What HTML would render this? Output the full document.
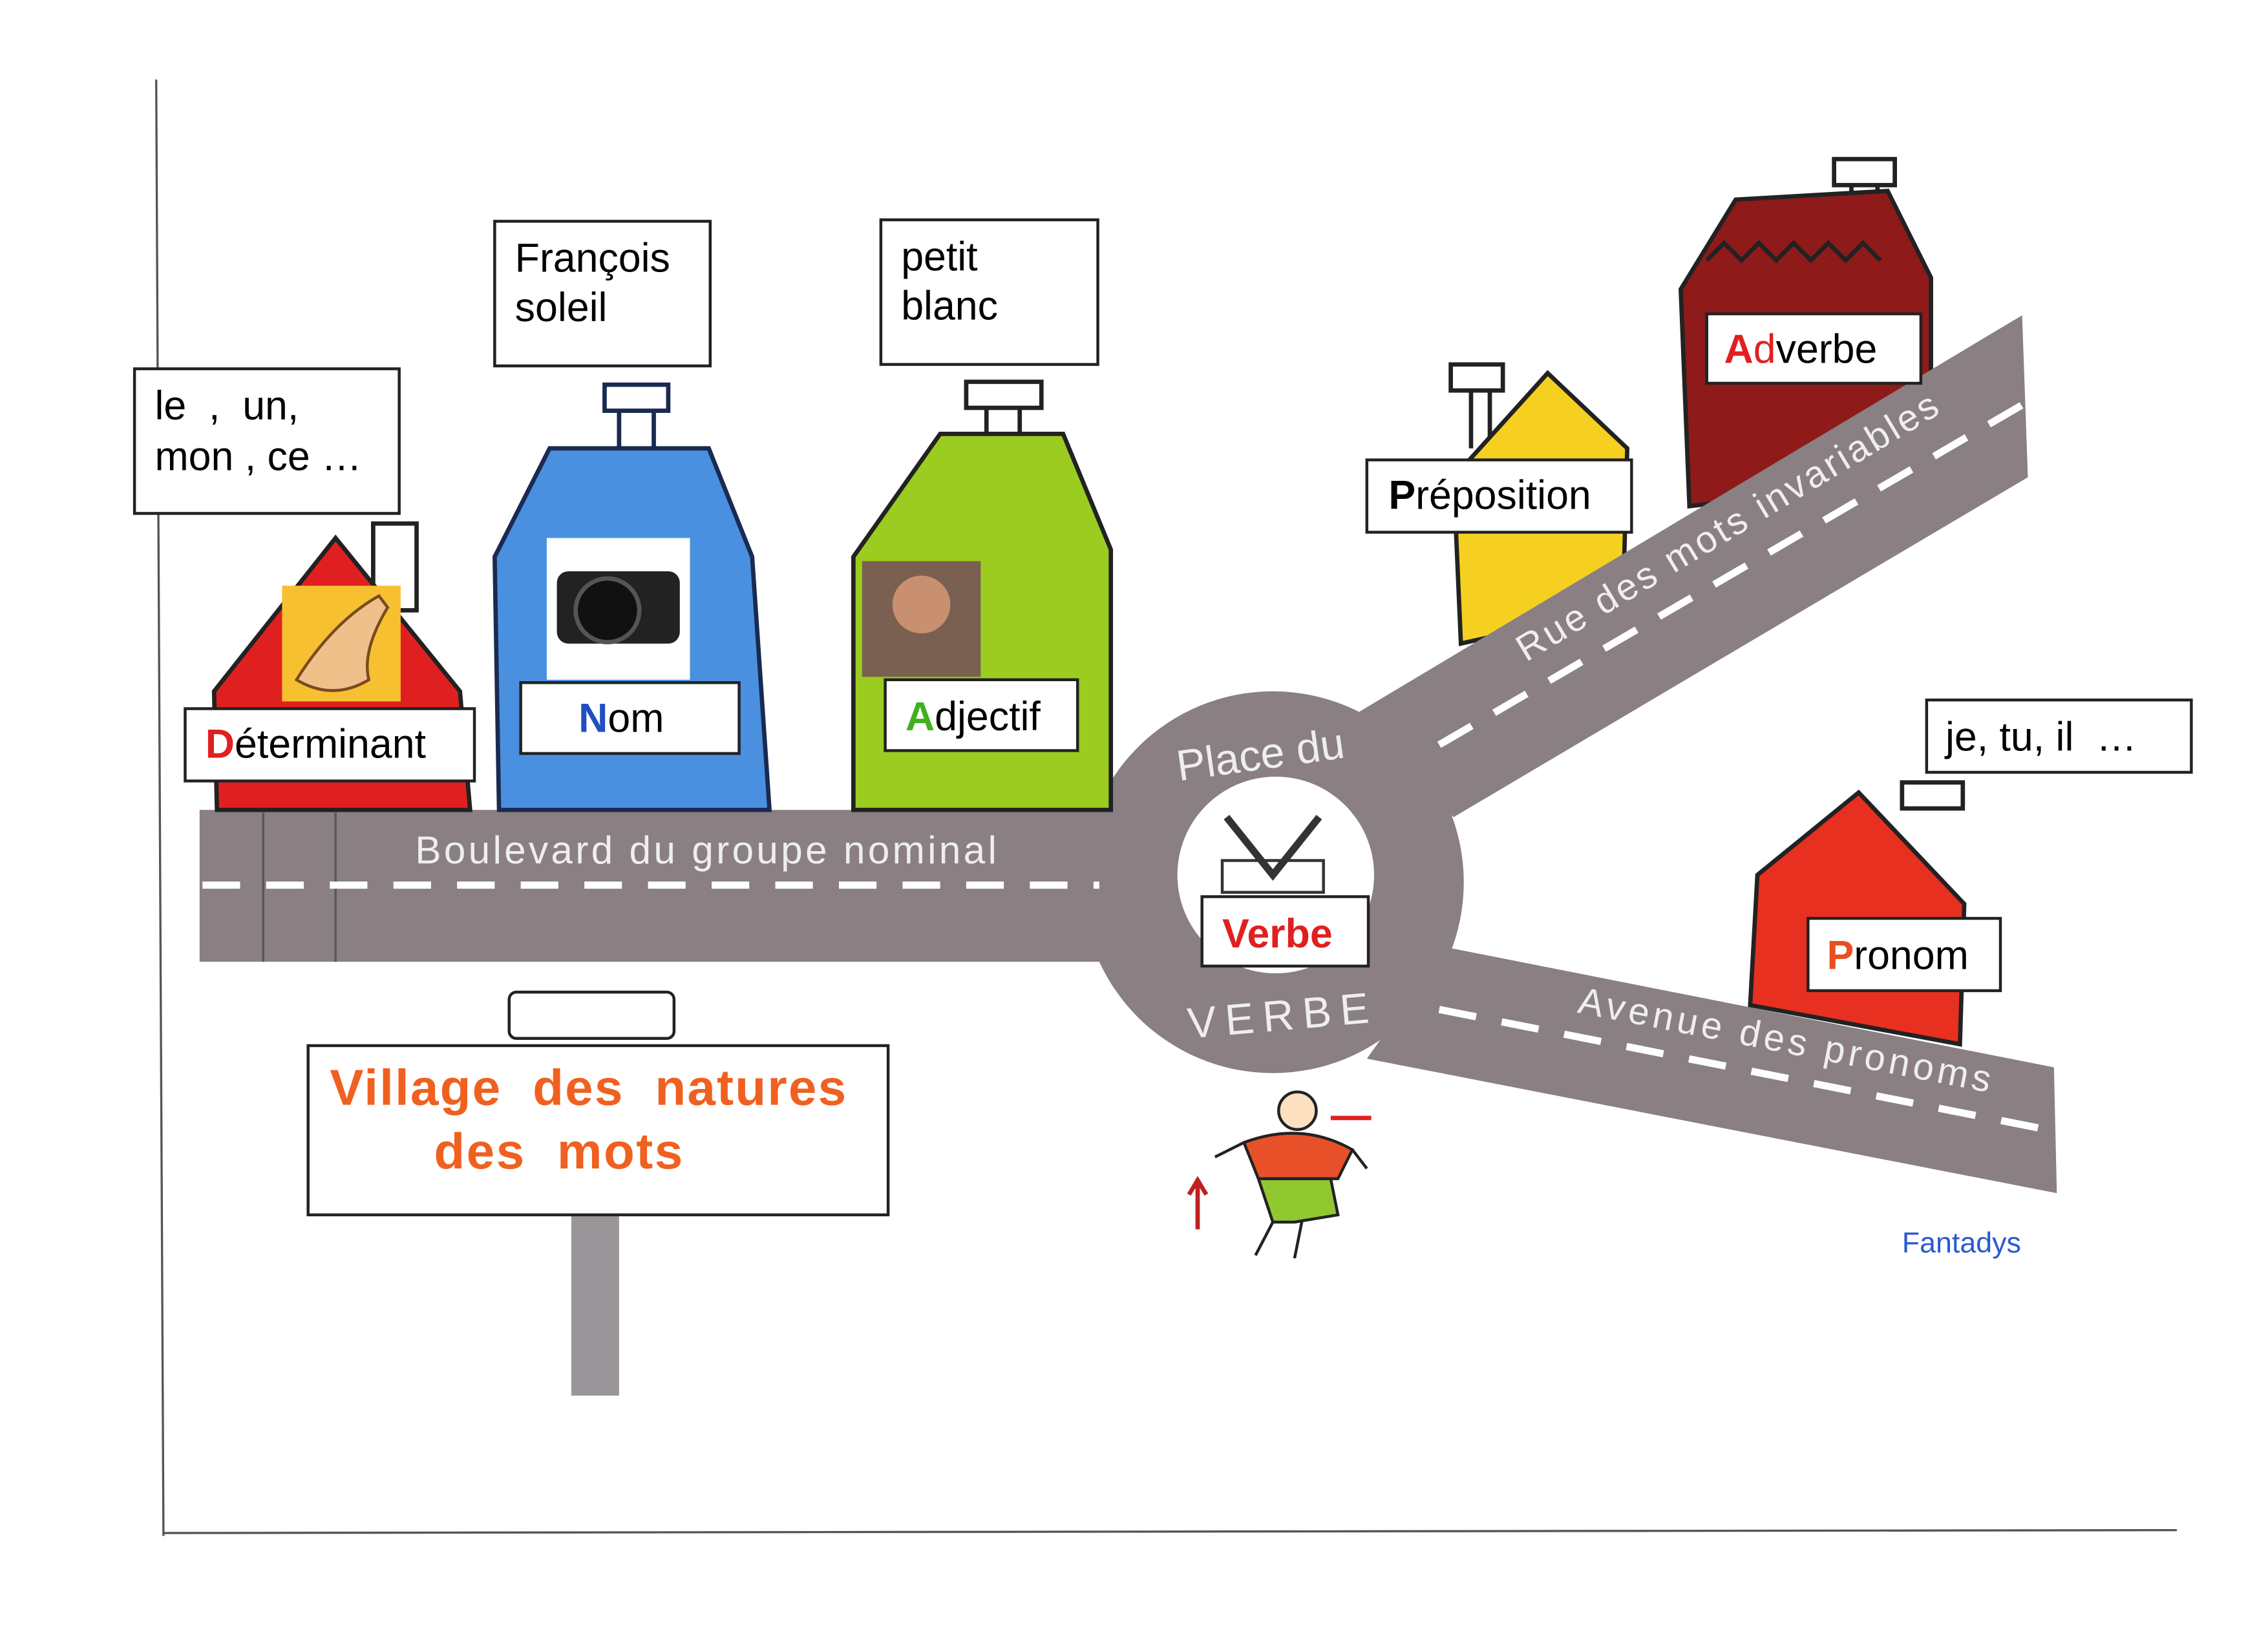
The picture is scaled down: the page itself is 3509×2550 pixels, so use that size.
<!DOCTYPE html>
<html><head><meta charset="utf-8"><style>
html,body{margin:0;padding:0;background:#fff}
svg{display:block}
text{font-family:"Liberation Sans",sans-serif}
</style></head><body>
<svg width="3509" height="2550" viewBox="0 0 1568 1139.5" preserveAspectRatio="none" xmlns="http://www.w3.org/2000/svg">
<rect width="1568" height="1140" fill="#fff"/>
<line x1="108" y1="55" x2="113" y2="1062" stroke="#555" stroke-width="1.5"/>
<line x1="113" y1="1060" x2="1505" y2="1058" stroke="#555" stroke-width="1.5"/>

<!-- Preposition house -->
<g stroke="#222" stroke-width="3">
<rect x="1003" y="252" width="36" height="18" fill="#fff"/>
<line x1="1017" y1="270" x2="1017" y2="310"/><line x1="1030" y1="270" x2="1030" y2="310"/>
<polygon points="1005,330 1070,258 1125,310 1122,420 1010,445" fill="#f5d020"/>
</g>
<!-- Adverbe house -->
<g stroke="#222" stroke-width="3">
<rect x="1268" y="110" width="42" height="18" fill="#fff"/>
<line x1="1280" y1="128" x2="1280" y2="138"/><line x1="1298" y1="128" x2="1298" y2="136"/>
<polygon points="1162,200 1200,138 1305,132 1335,192 1335,330 1168,350" fill="#8e1a1a"/>
</g>
<path d="M1180,180 l12,-12 l12,12 l12,-12 l12,12 l12,-12 l12,12 l12,-12 l12,12 l12,-12 l12,12" fill="none" stroke="#222" stroke-width="3"/>

<!-- roads -->
<g fill="#8a7f82">
<rect x="138" y="560" width="660" height="105"/>
<polygon points="935,495 1398,218 1402,330 1005,565"/>
<polygon points="1000,655 1420,738 1422,825 945,732"/>
<circle cx="880" cy="610" r="132"/>
</g>
<circle cx="882" cy="605" r="68" fill="#fff"/>
<line x1="182" y1="562" x2="182" y2="665" stroke="#555" stroke-width="1.5"/>
<line x1="232" y1="562" x2="232" y2="665" stroke="#555" stroke-width="1.5"/>
<line x1="140" y1="612" x2="760" y2="612" stroke="#fff" stroke-width="5" stroke-dasharray="26,18"/>
<line x1="995" y1="515" x2="1398" y2="280" stroke="#fff" stroke-width="5" stroke-dasharray="26,18"/>
<line x1="995" y1="698" x2="1420" y2="782" stroke="#fff" stroke-width="5" stroke-dasharray="26,18"/>
<text x="287" y="597" font-size="27" fill="#eee" font-family="DejaVu Sans" textLength="402">Boulevard du groupe nominal</text>
<text font-size="26" fill="#eee" font-family="DejaVu Sans" transform="translate(1055,458) rotate(-31)" textLength="335">Rue des mots invariables</text>
<text font-size="26" fill="#eee" font-family="DejaVu Sans" transform="translate(1090,700) rotate(11)" textLength="290">Avenue des pronoms</text>
<text font-size="30" fill="#eee" font-family="DejaVu Sans" transform="translate(815,540) rotate(-8)">Place du</text>
<text font-size="30" fill="#eee" font-family="DejaVu Sans" letter-spacing="6" transform="translate(822,718) rotate(-5)">VERBE</text>
<path d="M848,565 L880,605 L912,565" fill="none" stroke="#333" stroke-width="5"/>
<rect x="845" y="595" width="70" height="22" fill="none" stroke="#333" stroke-width="2"/>

<!-- Determinant house -->
<g stroke="#222" stroke-width="3">
<rect x="258" y="362" width="30" height="60" fill="#fff"/>
<polygon points="148,478 232,372 318,478 325,560 150,560" fill="#e02020"/>
</g>
<rect x="195" y="405" width="82" height="80" fill="#f7c030"/>
<path d="M205,470 Q230,430 262,412 L268,420 Q250,450 255,470 Q230,485 205,470Z" fill="#f0c08a" stroke="#7a4a20" stroke-width="2"/>
<rect x="128" y="490" width="200" height="50" fill="#fff" stroke="#222" stroke-width="2"/>
<text x="142" y="524" font-size="28"><tspan fill="#e02020" font-weight="bold">D</tspan>éterminant</text>

<!-- Nom house -->
<g stroke="#1a2a50" stroke-width="3">
<rect x="418" y="266" width="44" height="18" fill="#fff"/>
<line x1="428" y1="284" x2="428" y2="310"/><line x1="452" y1="284" x2="452" y2="310"/>
<polygon points="380,310 490,310 520,385 532,560 345,560 342,385" fill="#4a90e0"/>
</g>
<rect x="378" y="372" width="99" height="98" fill="#fff"/>
<rect x="385" y="395" width="85" height="50" rx="8" fill="#222"/>
<circle cx="420" cy="422" r="22" fill="#111" stroke="#555" stroke-width="3"/>
<rect x="360" y="472" width="151" height="49" fill="#fff" stroke="#222" stroke-width="2"/>
<text x="400" y="506" font-size="28"><tspan fill="#2050c0" font-weight="bold">N</tspan>om</text>

<!-- Adjectif house -->
<g stroke="#222" stroke-width="3">
<rect x="668" y="264" width="52" height="18" fill="#fff"/>
<line x1="682" y1="282" x2="682" y2="330"/><line x1="705" y1="282" x2="705" y2="330"/>
<polygon points="590,385 650,300 735,300 768,380 768,560 590,560" fill="#9ccc20"/>
</g>
<rect x="596" y="388" width="82" height="80" fill="#7a6050"/>
<circle cx="637" cy="418" r="20" fill="#c89070"/>
<rect x="612" y="470" width="133" height="49" fill="#fff" stroke="#222" stroke-width="2"/>
<text x="626" y="505" font-size="28"><tspan fill="#40b020" font-weight="bold">A</tspan>djectif</text>

<rect x="945" y="318" width="183" height="50" fill="#fff" stroke="#222" stroke-width="2"/>
<text x="960" y="352" font-size="28"><tspan font-weight="bold">P</tspan>réposition</text>
<rect x="1180" y="217" width="148" height="48" fill="#fff" stroke="#222" stroke-width="2"/>
<text x="1192" y="251" font-size="28"><tspan fill="#e02020" font-weight="bold">A</tspan><tspan fill="#e02020">d</tspan>verbe</text>

<!-- Pronom house -->
<g stroke="#222" stroke-width="3">
<rect x="1315" y="541" width="42" height="18" fill="#fff"/>
<polygon points="1215,605 1285,548 1358,625 1355,722 1210,695" fill="#e83020"/>
</g>
<rect x="1250" y="635" width="133" height="50" fill="#fff" stroke="#222" stroke-width="2"/>
<text x="1263" y="670" font-size="28"><tspan fill="#e85020" font-weight="bold">P</tspan>ronom</text>

<!-- text boxes -->
<g fill="#fff" stroke="#222" stroke-width="2">
<rect x="93" y="255" width="183" height="100"/>
<rect x="342" y="153" width="149" height="100"/>
<rect x="609" y="152" width="150" height="100"/>
<rect x="1332" y="484" width="183" height="50"/>
</g>
<text font-size="28" xml:space="preserve"><tspan x="107" y="290">le  ,  un,</tspan><tspan x="107" y="325">mon , ce …</tspan></text>
<text font-size="28"><tspan x="356" y="188">François</tspan><tspan x="356" y="222">soleil</tspan></text>
<text font-size="28"><tspan x="623" y="187">petit</tspan><tspan x="623" y="221">blanc</tspan></text>
<text x="1345" y="519" font-size="28" xml:space="preserve">je, tu, il  …</text>

<!-- Verbe label -->
<rect x="831" y="620" width="115" height="48" fill="#fff" stroke="#222" stroke-width="2"/>
<text x="845" y="655" font-size="28" fill="#e02020" font-weight="bold">Verbe</text>

<!-- sign -->
<rect x="395" y="838" width="33" height="127" fill="#9a9598"/>
<rect x="352" y="686" width="114" height="32" rx="5" fill="#fff" stroke="#222" stroke-width="2"/>
<rect x="213" y="723" width="401" height="117" fill="#fff" stroke="#222" stroke-width="2"/>
<text font-size="35" fill="#f06020" font-weight="bold" xml:space="preserve"><tspan x="228" y="764" textLength="357">Village  des  natures</tspan><tspan x="300" y="808" textLength="172">des  mots</tspan></text>

<!-- boy -->
<g stroke="#222" stroke-width="2">
<circle cx="897" cy="768" r="13" fill="#fde0c0"/>
<path d="M860,790 Q900,775 935,795 L925,815 L870,815Z" fill="#e8502a"/>
<path d="M870,815 L920,815 L925,840 L895,845 L880,845Z" fill="#90c830"/>
<line x1="860" y1="790" x2="840" y2="800"/><line x1="935" y1="795" x2="945" y2="808"/>
<line x1="880" y1="845" x2="868" y2="868"/><line x1="900" y1="845" x2="895" y2="870"/>
</g>
<line x1="920" y1="773" x2="948" y2="773" stroke="#e02020" stroke-width="3"/>
<path d="M828,850 L828,818 M822,826 L828,816 L834,826" stroke="#c02020" stroke-width="3" fill="none"/>

<text x="1315" y="866" font-size="20" fill="#2a5ad0">Fantadys</text>
</svg>
</body></html>
